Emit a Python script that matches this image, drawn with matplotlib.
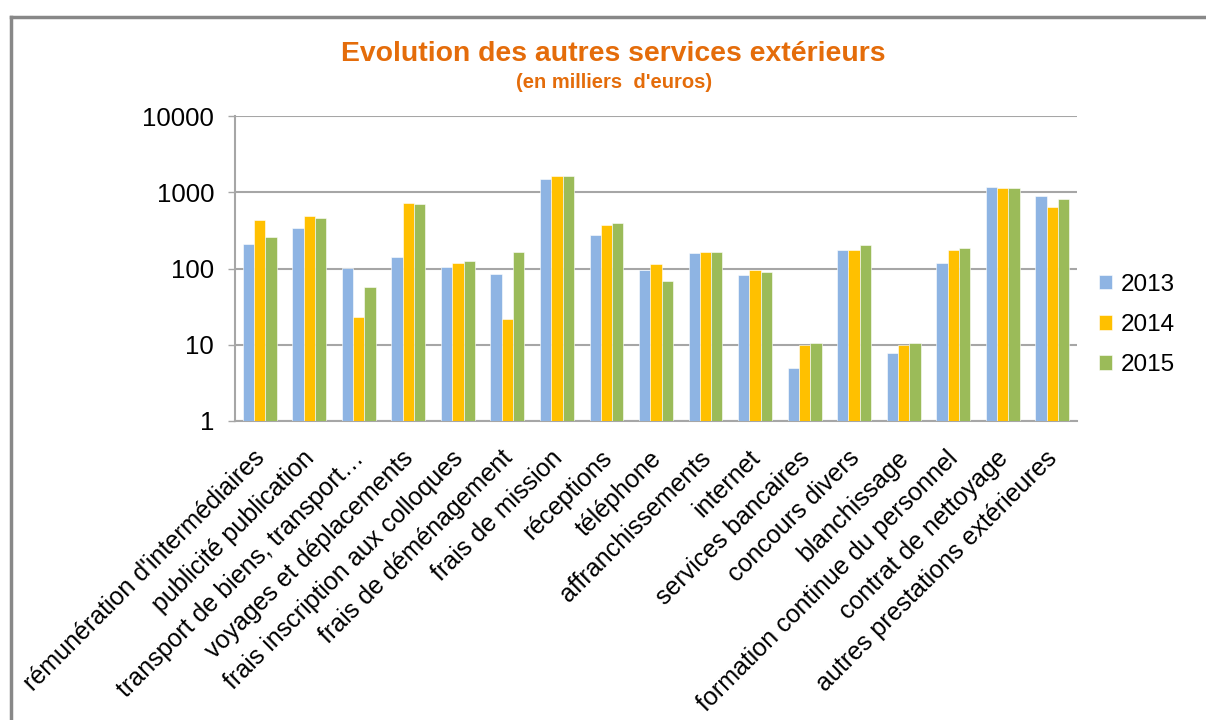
import numpy as np
import matplotlib
matplotlib.use('Agg')
import matplotlib.pyplot as plt
import matplotlib.transforms as mtransforms
from matplotlib.lines import Line2D

plt.rcParams['font.family'] = ['Liberation Sans', 'DejaVu Sans']

# données (en milliers d'euros)
categories = [
    "rémunération d'intermédiaires", "publicité publication",
    "transport de biens, transport…", "voyages et déplacements",
    "frais inscription aux colloques", "frais de déménagement",
    "frais de mission", "réceptions", "téléphone", "affranchissements",
    "internet", "services bancaires", "concours divers", "blanchissage",
    "formation continue du personnel", "contrat de nettoyage",
    "autres prestations extérieures",
]
v2013 = [212, 344, 102, 142, 105, 84, 1470, 275, 97, 159, 81, 4.9, 175, 7.8, 117, 1170, 900]
v2014 = [433, 483, 23, 722, 117, 21.5, 1630, 372, 113, 165, 95, 10, 175, 10, 175, 1125, 646]
v2015 = [257, 464, 58, 700, 126, 165, 1630, 399, 68, 165, 90, 10.5, 204, 10.5, 183, 1125, 806]
years = ['2013', '2014', '2015']
colors = ['#8EB4E3', '#FFC000', '#9BBB59']

fig = plt.figure(figsize=(12.06, 7.2), dpi=100)
W, H = 1206, 720
ax = fig.add_axes([235 / W, 1 - 421 / H, (1077 - 235) / W, (421 - 116) / H])

x = np.arange(len(categories))
w = 0.228
for i, (vals, lab, c) in enumerate(zip([v2013, v2014, v2015], years, colors)):
    ax.bar(x + (i - 1) * w, vals, width=w, color=c, label=lab, zorder=3,
           edgecolor='white', linewidth=0.4)

ax.set_yscale('log')
ax.set_ylim(1, 10000)
ax.set_xlim(-0.5, len(categories) - 0.5)
ax.set_yticks([1, 10, 100, 1000, 10000])
ax.set_yticklabels(['1', '10', '100', '1000', '10000'], fontsize=18.5)
ax.yaxis.set_minor_locator(matplotlib.ticker.NullLocator())
ax.grid(axis='y', color='#A6A6A6', linewidth=1.5, zorder=0)
ax.set_axisbelow(True)
for s in ['top', 'right']:
    ax.spines[s].set_visible(False)
for s in ['left', 'bottom']:
    ax.spines[s].set_color('#A6A6A6')
    ax.spines[s].set_linewidth(1.5)
ax.tick_params(axis='y', length=5, color='#A6A6A6', width=1, pad=10)
ax.tick_params(axis='x', length=0, pad=18)
ax.set_xticks(x)
ax.set_xticklabels(categories, rotation=45, ha='right', va='top',
                   rotation_mode='anchor', fontsize=18)
shift = mtransforms.ScaledTranslation(-7 / 100, 0, fig.dpi_scale_trans)
for t in ax.get_xticklabels():
    t.set_transform(t.get_transform() + shift)

# légende
leg = ax.legend(loc='center left', bbox_to_anchor=(1.0, 0.315), frameon=False,
                fontsize=17.5, handlelength=0.55, handleheight=0.55,
                handletextpad=0.35, labelspacing=0.75)

# titre
fig.text(613 / W, 1 - 54 / H, "Evolution des autres services extérieurs",
         ha='center', va='center', fontsize=20.4, fontweight='bold', color='#E46C0A')
fig.text(614 / W, 1 - 82 / H, "(en milliers  d'euros)",
         ha='center', va='center', fontsize=14.5, fontweight='bold', color='#E46C0A')

# bordure de la zone de graphique (coupée à droite et en bas)
fig.add_artist(Line2D([11 / W, 11 / W], [0, 1 - 17 / H], transform=fig.transFigure,
                      color='#888888', linewidth=2.5))
fig.add_artist(Line2D([11 / W, 1], [1 - 17 / H, 1 - 17 / H], transform=fig.transFigure,
                      color='#888888', linewidth=2.5))

fig.savefig('out.png', dpi=100)
